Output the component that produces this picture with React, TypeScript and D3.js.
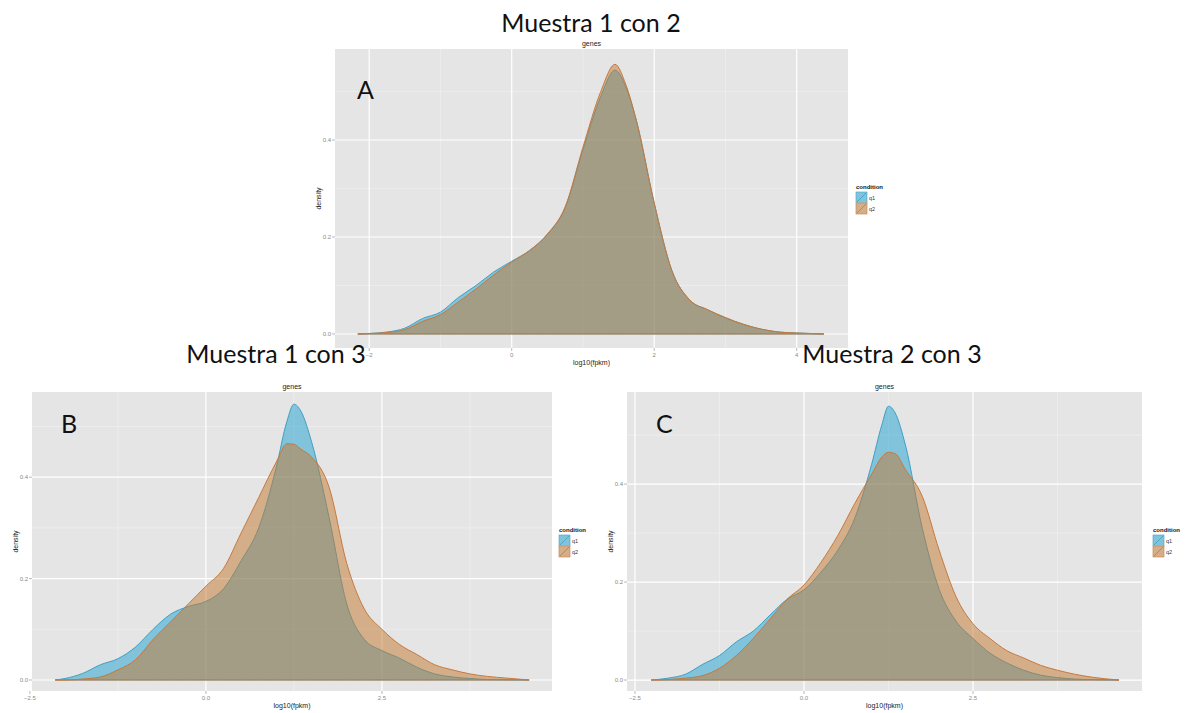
import React from "react";
import * as d3 from "d3";

// ---------- data ----------
const conditions = ["q1", "q2"];
const fillColors = ["#1ea2cf", "#c3782d"];
const lineColors = ["#3f9fc4", "#c7793d"];

const xTicksA = [-2, 0, 2, 4];
const xMinorA = [-1, 1, 3];
const xTicksBC = [-2.5, 0, 2.5];
const xMinorBC = [-1.25, 1.25, 3.75];
const yTicks = [0, 0.2, 0.4];
const yMinor = [0.1, 0.3, 0.5];

// Panel A: Muestra 1 con 2
const xA = [-2.16, -2.0, -1.75, -1.5, -1.25, -1.0, -0.75, -0.5, -0.25, 0, 0.25, 0.5, 0.75, 1.0, 1.25, 1.45, 1.6, 1.75, 2.0, 2.25, 2.5, 2.75, 3.0, 3.25, 3.5, 3.75, 4.0, 4.38];
const q1A = [0, 0.001, 0.004, 0.012, 0.032, 0.045, 0.075, 0.1, 0.128, 0.15, 0.172, 0.205, 0.26, 0.38, 0.49, 0.544, 0.51, 0.44, 0.27, 0.13, 0.07, 0.05, 0.033, 0.02, 0.01, 0.004, 0.002, 0];
const q2A = [0, 0.001, 0.003, 0.009, 0.026, 0.04, 0.066, 0.093, 0.122, 0.148, 0.172, 0.206, 0.262, 0.385, 0.5, 0.556, 0.515, 0.44, 0.27, 0.13, 0.07, 0.05, 0.034, 0.02, 0.01, 0.004, 0.002, 0];

// Panel B: Muestra 1 con 3
const xB = [-2.14, -2.0, -1.75, -1.5, -1.25, -1.0, -0.75, -0.5, -0.25, 0, 0.25, 0.5, 0.75, 1.0, 1.15, 1.25, 1.35, 1.5, 1.75, 2.0, 2.25, 2.5, 2.75, 3.0, 3.25, 3.5, 3.75, 4.0, 4.25, 4.59];
const q1B = [0, 0.003, 0.013, 0.03, 0.042, 0.065, 0.1, 0.13, 0.145, 0.155, 0.18, 0.235, 0.3, 0.42, 0.51, 0.544, 0.53, 0.47, 0.32, 0.15, 0.08, 0.058, 0.043, 0.025, 0.012, 0.006, 0.003, 0.001, 0.0005, 0];
const q2B = [0, 0, 0.002, 0.006, 0.02, 0.04, 0.08, 0.115, 0.15, 0.185, 0.22, 0.29, 0.36, 0.43, 0.466, 0.465, 0.455, 0.44, 0.38, 0.23, 0.14, 0.1, 0.07, 0.05, 0.03, 0.02, 0.012, 0.007, 0.004, 0];

// Panel C: Muestra 2 con 3
const xC = [-2.26, -2.0, -1.75, -1.5, -1.25, -1.0, -0.75, -0.5, -0.25, 0, 0.25, 0.5, 0.75, 1.0, 1.15, 1.25, 1.35, 1.5, 1.75, 2.0, 2.25, 2.5, 2.75, 3.0, 3.25, 3.5, 3.75, 4.0, 4.25, 4.66];
const q1C = [0, 0.004, 0.012, 0.032, 0.05, 0.078, 0.1, 0.133, 0.165, 0.184, 0.22, 0.265, 0.33, 0.44, 0.52, 0.559, 0.545, 0.48, 0.31, 0.185, 0.12, 0.085, 0.055, 0.035, 0.02, 0.01, 0.005, 0.002, 0.001, 0];
const q2C = [0, 0.001, 0.004, 0.009, 0.024, 0.05, 0.085, 0.125, 0.165, 0.194, 0.24, 0.295, 0.36, 0.42, 0.455, 0.465, 0.462, 0.43, 0.375, 0.265, 0.17, 0.115, 0.085, 0.06, 0.045, 0.03, 0.02, 0.012, 0.006, 0];

const bigTitles = ["Muestra 1 con 2", "Muestra 1 con 3", "Muestra 2 con 3"];
const letters = ["A", "B", "C"];

type PanelProps = {
  x0: number; x1: number; y0: number; y1: number;
  xDom: [number, number]; yDom: [number, number];
  xs: number[]; series: number[][];
  xTicks: number[]; xMinor: number[]; xFmt: (v: number) => string;
  legendX: number; legendY: number;
  letter: string; letterX: number; letterY: number;
};

function Panel(p: PanelProps) {
  const x = d3.scaleLinear().domain(p.xDom).range([p.x0, p.x1]);
  const y = d3.scaleLinear().domain(p.yDom).range([p.y1, p.y0]);
  const area = d3
    .area<number>()
    .x((_, i) => x(p.xs[i]))
    .y0(y(0))
    .curve(d3.curveMonotoneX);
  const tickFont = { fontFamily: "Liberation Sans, Arial, sans-serif", fontSize: 6, fill: "#8a8a8a" };
  const midX = (p.x0 + p.x1) / 2;
  const midY = (p.y0 + p.y1) / 2;
  return (
    <g>
      <rect x={p.x0} y={p.y0} width={p.x1 - p.x0} height={p.y1 - p.y0} fill="#e5e5e5" />
      {p.xMinor.map((v) => (
        <line key={"xm" + v} x1={x(v)} x2={x(v)} y1={p.y0} y2={p.y1} stroke="#f2f2f2" strokeWidth={0.6} />
      ))}
      {yMinor.map((v) => (
        <line key={"ym" + v} x1={p.x0} x2={p.x1} y1={y(v)} y2={y(v)} stroke="#f2f2f2" strokeWidth={0.6} />
      ))}
      {p.xTicks.map((v) => (
        <line key={"xg" + v} x1={x(v)} x2={x(v)} y1={p.y0} y2={p.y1} stroke="#ffffff" strokeWidth={1.2} />
      ))}
      {yTicks.map((v) => (
        <line key={"yg" + v} x1={p.x0} x2={p.x1} y1={y(v)} y2={y(v)} stroke="#ffffff" strokeWidth={1.2} />
      ))}
      {p.series.map((s, i) => (
        <path
          key={"s" + i}
          d={area.y1((_, j) => y(s[j]))(s) || ""}
          fill={fillColors[i]}
          fillOpacity={0.5}
          stroke={lineColors[i]}
          strokeWidth={1}
        />
      ))}
      {p.xTicks.map((v) => (
        <g key={"xt" + v}>
          <line x1={x(v)} x2={x(v)} y1={p.y1} y2={p.y1 + 3} stroke="#8a8a8a" strokeWidth={0.6} />
          <text x={x(v)} y={p.y1 + 9} textAnchor="middle" {...tickFont}>{p.xFmt(v)}</text>
        </g>
      ))}
      {yTicks.map((v) => (
        <g key={"yt" + v}>
          <line x1={p.x0 - 3} x2={p.x0} y1={y(v)} y2={y(v)} stroke="#8a8a8a" strokeWidth={0.6} />
          <text x={p.x0 - 4} y={y(v) + 2} textAnchor="end" {...tickFont}>{d3.format(".1f")(v)}</text>
        </g>
      ))}
      <text x={midX} y={p.y1 + 17} textAnchor="middle" fontFamily="Liberation Sans, Arial, sans-serif" fontSize={7} fill="#222">log10(fpkm)</text>
      <text transform={`translate(${p.x0 - 14},${midY}) rotate(-90)`} textAnchor="middle" fontFamily="Liberation Sans, Arial, sans-serif" fontSize={7} fill="#222">density</text>
      <text x={midX} y={p.y0 - 3} textAnchor="middle" fontFamily="Liberation Sans, Arial, sans-serif" fontSize={7} fill="#222">genes</text>
      <text x={p.legendX} y={p.legendY} fontFamily="Liberation Sans, Arial, sans-serif" fontSize={6} fontWeight="bold" fill="#111">condition</text>
      {conditions.map((c, i) => {
        const by = p.legendY + 3 + i * 11;
        return (
          <g key={"lg" + c}>
            <rect x={p.legendX} y={by} width={11} height={11} fill="#e5e5e5" stroke="#ffffff" strokeWidth={0.5} />
            <rect x={p.legendX} y={by} width={11} height={11} fill={fillColors[i]} fillOpacity={0.5} stroke={lineColors[i]} strokeWidth={0.6} />
            <line x1={p.legendX + 1} y1={by + 10} x2={p.legendX + 10} y2={by + 1} stroke={lineColors[i]} strokeWidth={0.8} />
            <text x={p.legendX + 13} y={by + 7.5} fontFamily="Liberation Sans, Arial, sans-serif" fontSize={5.5} fill="#333">{c}</text>
          </g>
        );
      })}
      <text x={p.letterX} y={p.letterY} fontFamily="Lato, 'Open Sans', sans-serif" fontSize={25} fill="#111">{p.letter}</text>
    </g>
  );
}

export default function App() {
  const fmtA = (v: number) => d3.format("d")(v);
  const fmtBC = (v: number) => d3.format(".1f")(v);
  const titleStyle = { fontFamily: "Lato, 'Open Sans', sans-serif", fontSize: 25, fill: "#111" };
  return (
    <svg width={1185} height={713} style={{ position: "absolute", left: 0, top: 0, background: "#fff" }}>
      <rect x={0} y={0} width={1185} height={713} fill="#ffffff" />
      <Panel
        x0={335} x1={848} y0={49} y1={348}
        xDom={[-2.48, 4.72]} yDom={[-0.0289, 0.5876]}
        xs={xA} series={[q1A, q2A]}
        xTicks={xTicksA} xMinor={xMinorA} xFmt={fmtA}
        legendX={856} legendY={189}
        letter={letters[0]} letterX={357} letterY={99}
      />
      <Panel
        x0={32} x1={552} y0={392} y1={691}
        xDom={[-2.47, 4.915]} yDom={[-0.0217, 0.568]}
        xs={xB} series={[q1B, q2B]}
        xTicks={xTicksBC} xMinor={xMinorBC} xFmt={fmtBC}
        legendX={559} legendY={532}
        letter={letters[1]} letterX={61} letterY={433}
      />
      <Panel
        x0={627} x1={1142} y0={392} y1={691}
        xDom={[-2.618, 5.0]} yDom={[-0.0224, 0.588]}
        xs={xC} series={[q1C, q2C]}
        xTicks={xTicksBC} xMinor={xMinorBC} xFmt={fmtBC}
        legendX={1153} legendY={532}
        letter={letters[2]} letterX={656} letterY={433}
      />
      <text x={591} y={32} textAnchor="middle" {...titleStyle}>{bigTitles[0]}</text>
      <text x={276} y={363} textAnchor="middle" {...titleStyle}>{bigTitles[1]}</text>
      <text x={892} y={363} textAnchor="middle" {...titleStyle}>{bigTitles[2]}</text>
    </svg>
  );
}
